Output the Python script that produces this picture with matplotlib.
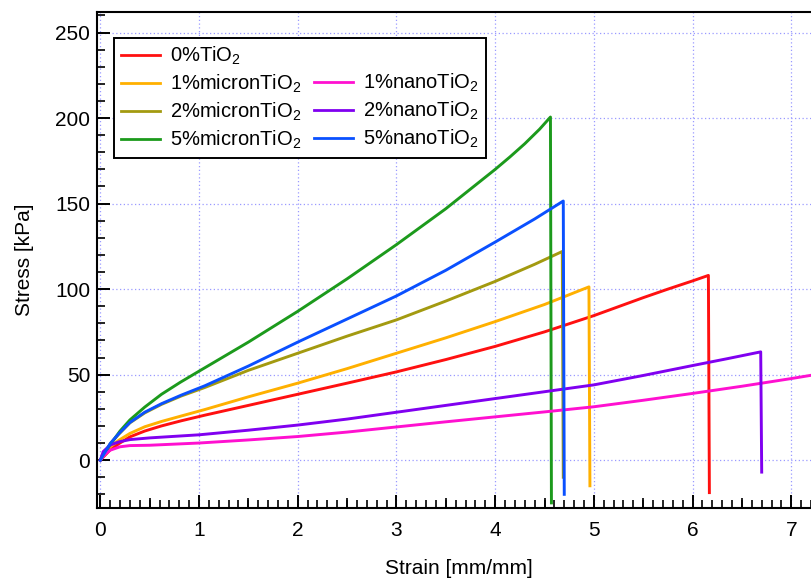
import matplotlib
matplotlib.use("Agg")
import matplotlib.pyplot as plt
from matplotlib.ticker import MultipleLocator, FixedLocator
from matplotlib.lines import Line2D

plt.rcParams["font.family"] = ["Liberation Sans", "DejaVu Sans"]
plt.rcParams["mathtext.fontset"] = "custom"
plt.rcParams["mathtext.rm"] = "Liberation Sans"
plt.rcParams["mathtext.it"] = "Liberation Sans:italic"

# Stress-strain records (strain in mm/mm, stress in kPa); final point is the drop after failure
labels = ["0%TiO$_2$", "1%micronTiO$_2$", "2%micronTiO$_2$", "5%micronTiO$_2$",
          "1%nanoTiO$_2$", "2%nanoTiO$_2$", "5%nanoTiO$_2$"]
colors = ["#ff1010", "#ffb000", "#a39a10", "#1c9a1c", "#ff10d0", "#8000f0", "#0a50ff"]

strain_0 = [0, 0.1, 0.19, 0.3, 0.45, 0.62, 0.82, 1.06, 1.5, 2.0, 2.5, 3.0, 3.5, 4.0, 4.5,
            5.0, 5.5, 5.75, 6.0, 6.16, 6.17]
stress_0 = [0, 6, 9.7, 13.6, 17, 20, 23, 26.3, 32, 38.5, 45, 51.6, 58.8, 66.5, 75,
            84.5, 95, 100, 104.8, 108, -19]

strain_1m = [0, 0.1, 0.19, 0.3, 0.45, 0.62, 0.82, 1.06, 1.5, 2.0, 2.5, 3.0, 3.5, 4.0, 4.5,
             4.95, 4.96]
stress_1m = [0, 7.8, 11.7, 15.6, 19.5, 22.6, 25.8, 29.6, 37, 45, 53.5, 62.5, 71.5, 81, 91,
             101.3, -15]

strain_2m = [0, 0.1, 0.19, 0.3, 0.45, 0.62, 0.82, 1.06, 1.5, 2.0, 2.5, 3.0, 3.5, 4.0, 4.4,
             4.68, 4.69]
stress_2m = [0, 9.5, 15.3, 21.8, 27.6, 32.6, 37.5, 42.5, 52.5, 62.5, 72.5, 82, 93, 104.5, 114.5,
             122, -10]

strain_5m = [0, 0.1, 0.2, 0.3, 0.45, 0.62, 0.81, 1.0, 1.5, 2.0, 2.5, 3.0, 3.5, 4.0, 4.15,
             4.3, 4.45, 4.56, 4.57]
stress_5m = [0, 9, 17, 23.5, 31, 38.5, 45.5, 52, 69, 87, 106, 126, 147, 170, 177.3,
             185, 193.5, 200.6, -25]

strain_1n = [0, 0.05, 0.1, 0.2, 0.3, 0.5, 1.0, 1.5, 2.0, 2.5, 3.0, 3.5, 4.0, 4.5, 5.0, 5.5,
             6.0, 6.5, 7.0, 7.4]
stress_1n = [0, 3.5, 5.8, 7.8, 8.5, 8.7, 10, 11.8, 13.8, 16.4, 19.4, 22.4, 25.3, 28.2, 31.2, 35,
             39, 43.2, 47.7, 51.5]

strain_2n = [0, 0.03, 0.1, 0.19, 0.3, 0.5, 1.0, 1.5, 2.0, 2.5, 3.0, 3.5, 4.0, 4.5, 5.0, 5.5,
             6.0, 6.35, 6.69, 6.70]
stress_2n = [0, 5, 8.8, 10.7, 12, 13, 14.8, 17.5, 20.5, 24, 28, 32, 36, 40, 44, 49.5,
             55.3, 59.3, 63.3, -7]

strain_5n = [0, 0.1, 0.19, 0.3, 0.45, 0.62, 0.82, 1.06, 1.5, 2.0, 2.5, 3.0, 3.5, 4.0, 4.4,
             4.69, 4.70]
stress_5n = [0, 9.7, 15.6, 22, 28, 33, 38, 43.5, 55, 69, 82.5, 96, 111, 127.5, 141,
             151.5, -20]

series = [(strain_0, stress_0), (strain_1m, stress_1m), (strain_2m, stress_2m),
          (strain_5m, stress_5m), (strain_1n, stress_1n), (strain_2n, stress_2n),
          (strain_5n, stress_5n)]

fig = plt.figure(figsize=(8.12, 5.79), dpi=100)
ax = fig.add_axes([0.1195, 0.1226, 0.8915, 0.8566])

handles = []
for (x, y), lab, c in zip(series, labels, colors):
    ln, = ax.plot(x, y, color=c, lw=2.1, label=lab, solid_joinstyle="round")
    handles.append(ln)

ax.set_xlim(-0.033, 7.30)
ax.set_ylim(-28, 262)

ax.xaxis.set_major_locator(MultipleLocator(1))
ax.xaxis.set_minor_locator(MultipleLocator(0.1))
ax.yaxis.set_major_locator(MultipleLocator(50))
ax.yaxis.set_minor_locator(MultipleLocator(10))

ax.tick_params(which="major", direction="in", length=9.5, width=1.4, labelsize=15,
               top=False, right=False)
ax.tick_params(which="minor", direction="in", length=5.5, width=1.2, top=False, right=False)
ax.tick_params(axis="x", which="major", pad=9)
ax.tick_params(axis="y", which="major", pad=5)

# half-unit strain ticks drawn slightly longer
sec = ax.secondary_xaxis("bottom")
sec.xaxis.set_major_locator(FixedLocator([i + 0.5 for i in range(-1, 8)]))
sec.tick_params(direction="in", length=7.5, width=1.2, labelbottom=False)
sec.spines["bottom"].set_visible(False)

for s in ax.spines.values():
    s.set_linewidth(1.5)

ax.grid(True, which="major", color="#9a9aff", linestyle=(0, (1, 2)), linewidth=0.9)
ax.set_axisbelow(True)

ax.set_xlabel("Strain [mm/mm]", fontsize=15, labelpad=14)
ax.set_ylabel("Stress [kPa]", fontsize=15, labelpad=15)

blank = Line2D([], [], color="none")
leg_handles = [handles[0], handles[1], handles[2], handles[3],
               blank, handles[4], handles[5], handles[6]]
leg_labels = [labels[0], labels[1], labels[2], labels[3],
              "", labels[4], labels[5], labels[6]]
leg = ax.legend(leg_handles, leg_labels, ncol=2, loc="upper left",
                bbox_to_anchor=(0.0235, 0.9476), borderaxespad=0,
                fontsize=14.5, frameon=True, fancybox=False, framealpha=1,
                edgecolor="black", handlelength=1.95, handletextpad=0.5,
                columnspacing=0.6, labelspacing=0.28, borderpad=0.35)
leg.get_frame().set_linewidth(1.4)
for lh in leg.get_lines():
    lh.set_linewidth(2.0)

fig.savefig("out.png", dpi=100)
